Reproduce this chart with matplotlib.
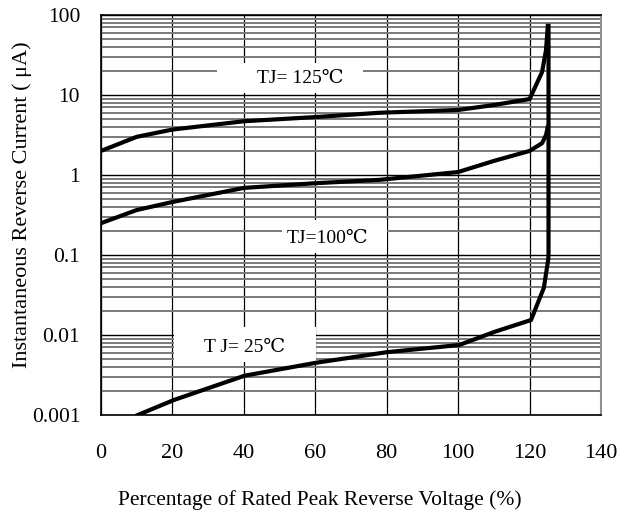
import matplotlib.pyplot as plt
from matplotlib.patches import Rectangle
from matplotlib.ticker import FixedLocator, FixedFormatter, LogLocator, NullFormatter

plt.rcParams['font.family'] = ['Liberation Serif', 'DejaVu Serif']

# curves: percent of rated voltage, current in uA
x_125 = [0, 10, 20, 40, 60, 78, 100, 110, 120, 123.5, 124.6, 125.1]
i_125 = [2.0, 3.0, 3.7, 4.7, 5.3, 6.0, 6.5, 7.5, 8.9, 19.4, 36.5, 73]

x_100 = [0, 10, 20, 40, 60, 78, 100, 110, 120, 123.5, 124.6, 125.1]
i_100 = [0.25, 0.365, 0.46, 0.69, 0.79, 0.87, 1.09, 1.5, 2.0, 2.5, 3.16, 4.0]

x_25 = [10.3, 20.4, 40.2, 60.2, 80, 100.3, 110.3, 120.4, 124, 125.2, 125.3, 125.3]
i_25 = [0.001, 0.00154, 0.0031, 0.0045, 0.0061, 0.0075, 0.011, 0.0154, 0.039, 0.087, 0.1, 73]

x_ticks = [0, 20, 40, 60, 80, 100, 120, 140]
y_ticks = [0.001, 0.01, 0.1, 1, 10, 100]
y_labels = ['0.001', '0.01', '0.1', '1', '10', '100']

fig = plt.figure(figsize=(6.3, 5.16), dpi=100)
ax = fig.add_axes([0.1603, 0.1957, 0.7937, 0.7752])

ax.set_yscale('log')
ax.set_xlim(0, 140)
ax.set_ylim(0.001, 100)

ax.xaxis.set_major_locator(FixedLocator(x_ticks))
ax.yaxis.set_major_locator(FixedLocator(y_ticks))
ax.yaxis.set_major_formatter(FixedFormatter(y_labels))
ax.yaxis.set_minor_locator(LogLocator(base=10, subs=range(2, 10)))
ax.yaxis.set_minor_formatter(NullFormatter())

ax.grid(True, axis='x', which='major', color='black', lw=0.9, zorder=1)
ax.grid(True, axis='y', which='major', color='black', lw=1.0, zorder=1)
ax.grid(True, axis='y', which='minor', color='#7a7a7a', lw=1.4, zorder=1)
ax.set_axisbelow(True)

ax.tick_params(axis='both', which='both', length=0)
ax.tick_params(axis='x', pad=21, labelsize=16)
ax.tick_params(axis='y', pad=15, labelsize=15.5)

for side in ['left', 'bottom', 'top']:
    ax.spines[side].set_color('black')
    ax.spines[side].set_linewidth(1.2)
ax.spines['right'].set_color('#909090')
ax.spines['right'].set_linewidth(1.5)

# white boxes behind the labels
ax.add_patch(Rectangle((32.4, 10.6), 40.9, 25.1 - 10.6, facecolor='white',
                       edgecolor='none', zorder=2))
ax.add_patch(Rectangle((50.6, 0.106), 29.4, 0.274 - 0.106, facecolor='white',
                       edgecolor='none', zorder=2))
ax.add_patch(Rectangle((20.4, 0.0046), 39.7, 0.0125 - 0.0046, facecolor='white',
                       edgecolor='none', zorder=2))

ax.plot(x_125, i_125, color='black', lw=3, solid_joinstyle='round', zorder=4)
ax.plot(x_100, i_100, color='black', lw=3, solid_joinstyle='round', zorder=4)
ax.plot(x_25, i_25, color='black', lw=3, solid_joinstyle='round', zorder=4)

ax.text(55.7, 16.3, 'TJ= 125\u2103', fontsize=14, ha='center', va='center', zorder=3)
ax.text(63.5, 0.162, 'TJ=100\u2103', fontsize=14, ha='center', va='center', zorder=3)
ax.text(40.2, 0.0069, 'T J= 25\u2103', fontsize=14, ha='center', va='center', zorder=3)

ax.set_xlabel('Percentage of Rated Peak Reverse Voltage (%)', fontsize=15.5)
ax.xaxis.set_label_coords(0.438, -0.187)
ax.set_ylabel('Instantaneous Reverse Current ( \u03bcA)', fontsize=16)
ax.yaxis.set_label_coords(-0.137, 0.525)

fig.savefig('out.png', dpi=100)
